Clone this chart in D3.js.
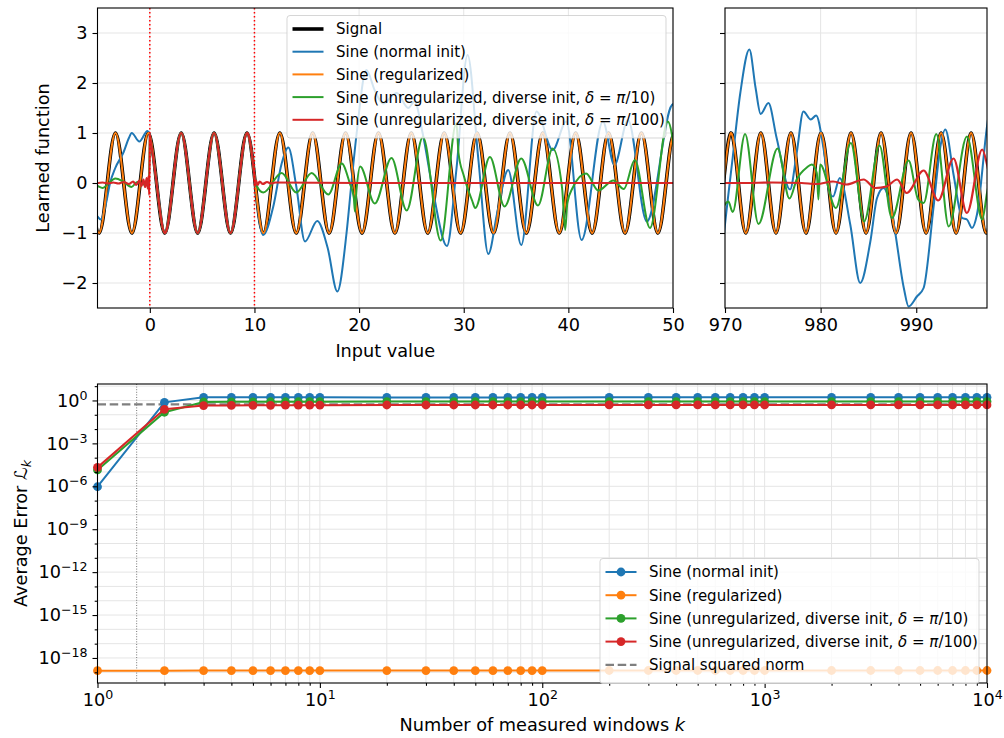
<!DOCTYPE html>
<html>
<head>
<meta charset="utf-8">
<script src="https://d3js.org/d3.v7.min.js"></script>
<style>
body { margin: 0; background: #fff; }
svg { font-family: "DejaVu Sans", sans-serif; }
</style>
</head>
<body>
<script>
// ---- data ----
const seriesNames = ['Sine (normal init)', 'Sine (regularized)',
  'Sine (unregularized, diverse init, δ = π/10)', 'Sine (unregularized, diverse init, δ = π/100)'];
const seriesColors = ['#1f77b4', '#ff7f0e', '#2ca02c', '#d62728'];
const signalName = 'Signal';
const normName = 'Signal squared norm';

// signal: extrema and zero crossings, left window
const signalLeft = [[-5.638,0],[-4.852,-1],[-4.067,0],[-3.282,1],[-2.496,0],[-1.711,-1],[-0.925,0],[-0.14,1],
  [0.645,0],[1.431,-1],[2.216,0],[3.002,1],[3.787,0],[4.572,-1],[5.358,0],[6.143,1],[6.929,0],[7.714,-1],
  [8.499,0],[9.285,1],[10.070,0],[10.856,-1],[11.641,0],[12.426,1],[13.212,0],[13.997,-1],[14.783,0],
  [15.568,1],[16.353,0],[17.139,-1],[17.924,0],[18.710,1],[19.495,0],[20.280,-1],[21.066,0],[21.851,1],
  [22.637,0],[23.422,-1],[24.207,0],[24.993,1],[25.778,0],[26.564,-1],[27.349,0],[28.134,1],[28.920,0],
  [29.705,-1],[30.491,0],[31.276,1],[32.061,0],[32.847,-1],[33.632,0],[34.418,1],[35.203,0],[35.988,-1],
  [36.774,0],[37.559,1],[38.345,0],[39.130,-1],[39.915,0],[40.701,1],[41.486,0],[42.272,-1],[43.057,0],
  [43.842,1],[44.628,0],[45.413,-1],[46.199,0],[46.984,1],[47.769,0],[48.555,-1],[49.340,0],[50.126,1],[50.911,0]];
// signal, right window
const signalRight = [[969.04,-1],[969.83,0],[970.61,1],[971.40,0],[972.18,-1],[972.97,0],[973.75,1],[974.54,0],
  [975.33,-1],[976.11,0],[976.90,1],[977.68,0],[978.47,-1],[979.25,0],[980.04,1],[980.82,0],[981.61,-1],
  [982.40,0],[983.18,1],[983.97,0],[984.75,-1],[985.54,0],[986.32,1],[987.11,0],[987.89,-1],[988.68,0],
  [989.46,1],[990.25,0],[991.03,-1],[991.82,0],[992.60,1],[993.39,0],[994.17,-1],[994.96,0],[995.74,1],
  [996.53,0],[997.32,-1],[998.10,0]];
// fit of the training window [0, 10] ends
const trainEnds = [[0, 0.96], [10, 0.14]];

const normalPre = [[-5.3,-0.6],[-5,-0.67],[-4.7,-0.73],[-4.2,-0.42],[-3.8,0.0],[-3.3,0.3],[-2.5,0.62],[-2.0,0.9],
  [-1.73,1.0],[-1.0,0.83],[-0.23,1.04],[0,0.96]];
const normalPost = [[10,0.14],[10.83,-1.04],[11.8,-0.47],[12.6,0.39],[13.24,0.71],[14.0,-0.07],[14.83,-1.17],
  [16.0,-0.76],[17.0,-1.3],[17.92,-2.17],[18.8,-1.0],[19.27,0.0],[19.77,1.0],[20.7,2.26],[21.5,1.85],[22.3,1.59],
  [23.6,1.8],[24.7,1.5],[25.3,1.63],[26.07,1.0],[27.1,-0.2],[28.4,-1.26],[29.3,0.27],[30.37,2.56],[31.4,0.47],
  [32.35,-1.42],[33.2,-0.6],[34.25,0.26],[35.5,-1.24],[36.96,1.43],[38.5,0.66],[39.8,1.23],[41.26,-1.14],
  [43.3,1.23],[44.4,0.36],[45.7,1.26],[47.5,-0.77],[49.9,1.56],[50.3,1.6]];
const diverse10Pre = [[-5.3,-0.03],[-5,-0.06],[-4.5,-0.1],[-4.0,-0.02],[-3.3,0.09],[-2.55,0.03],[-1.75,-0.08],
  [-1.2,0.02],[-0.6,-0.03],[-0.1,0.02],[0,0.96]];
const diverse10Post = [[10,0.14],[10.2,-0.05],[10.85,-0.19],[12.6,0.2],[14.0,-0.19],[15.47,0.2],[17.06,-0.23],
  [18.34,0.39],[19.1,0.0],[19.5,-0.3],[19.6,-0.57],[19.75,-0.15],[20.1,0.33],[21.5,-0.41],[23.1,0.5],
  [24.55,-0.55],[26.1,0.92],[27.8,-1.15],[29.3,1.2],[29.5,0.6],[30.0,0.15],[30.8,-0.35],[31.1,-0.5],
  [32.5,0.52],[33.9,-0.47],[35.5,0.49],[37.1,-0.45],[38.5,0.69],[39.4,-0.1],[39.7,-0.94],[39.9,-0.4],
  [40.4,-0.1],[41.7,0.19],[42.85,-0.15],[44.3,0.05],[45.3,-0.12],[46.35,0.46],[47.8,-0.9],[49.5,1.23],[50.3,0.4]];
const diverse100Pre = [[-5.3,0],[-5,0],[-4.5,0.01],[-4,-0.01],[-3.5,0.01],[-3,-0.01],[-2.5,0.02],[-2,-0.02],
  [-1.6,0.03],[-1.3,-0.04],[-1.0,0.05],[-0.8,-0.06],[-0.6,0.07],[-0.45,-0.08],[-0.3,0.1],[-0.2,-0.11],
  [-0.12,0.14],[-0.06,-0.24],[0,0.96]];
const diverse100Post = [[10,0.14],[10.05,-0.06],[10.15,0.05],[10.3,-0.04],[10.5,0.03],[10.8,-0.02],[11.2,0.02],
  [11.6,-0.01],[12,0.01],[20,0],[30,0],[40,0],[50.3,0]];

const normalRight = [[969.8,-1.2],[970,-0.83],[970.8,0.5],[971.6,1.8],[972.55,2.67],[973.2,1.9],[973.73,1.38],
  [974.54,1.6],[975.4,0.9],[976.8,-0.13],[977.5,0.6],[978.2,1.43],[978.97,1.27],[979.53,1.35],[980.3,0.7],
  [981.0,-0.23],[981.3,-0.27],[982.0,0.1],[983.1,-0.83],[984.14,-2.0],[985.2,-1.17],[985.9,-0.3],[986.6,-0.1],
  [987.6,-0.77],[988.7,-2.1],[989.2,-2.47],[990.07,-2.27],[990.77,-2.1],[991.8,-0.5],[992.5,0.7],[993.04,1.07],
  [993.9,0.17],[994.8,-0.7],[995.3,-0.73],[995.83,-0.9],[996.35,-0.63],[997.4,1.13],[997.6,1.4]];
const diverse10Right = [[969.8,-0.5],[970,-0.43],[970.35,-0.37],[970.8,-0.58],[972.1,0.98],[973.5,-0.82],
  [975.5,0.69],[976.74,-0.31],[977.5,0.07],[978.55,0.31],[979.07,0.37],[979.6,0.2],[979.77,-0.33],[979.95,0.37],
  [981.6,-0.5],[983.16,0.8],[984.55,-0.77],[986.16,0.75],[987.45,-0.7],[989.2,0.45],[990.2,-0.33],[990.77,-0.4],
  [992.1,0.98],[993.4,-0.87],[995.3,0.93],[996.9,-0.73],[997.4,-0.2],[997.6,0.0]];
const diverse100Right = [[969.8,0],[972,0.0],[975,0.01],[978,0.0],[979.6,-0.02],[981.3,0.03],[982.7,-0.03],
  [984.5,0.07],[985.7,-0.1],[986.9,-0.07],[988.0,0.07],[989.0,-0.2],[990.77,0.25],[992.3,-0.35],[993.9,0.49],
  [995.3,-0.6],[996.9,0.67],[997.4,0.37],[997.6,0.2]];

// bottom panel: average error per number of windows
const kValues = [1,2,3,4,5,6,7,8,9,10,20,30,40,50,60,70,80,90,100,200,300,400,500,600,700,800,900,1000,
  2000,3000,4000,5000,6000,7000,8000,9000,10000];
const errNormal = [9.3e-7,0.74,1.66,1.66,1.66,1.66,1.66,1.66,1.66,1.66,1.64,1.64,1.64,1.64,1.64,1.64,1.64,1.64,
  1.64,1.65,1.65,1.65,1.65,1.65,1.65,1.65,1.65,1.65,1.66,1.66,1.66,1.66,1.66,1.66,1.66,1.66,1.66];
const errRegularized = [1.3e-19,1.3e-19,1.32e-19,1.32e-19,1.32e-19,1.31e-19,1.31e-19,1.31e-19,1.31e-19,1.31e-19,
  1.32e-19,1.32e-19,1.32e-19,1.32e-19,1.32e-19,1.32e-19,1.32e-19,1.32e-19,1.32e-19,1.33e-19,1.33e-19,1.33e-19,
  1.33e-19,1.33e-19,1.33e-19,1.33e-19,1.33e-19,1.33e-19,1.33e-19,1.33e-19,1.33e-19,1.33e-19,1.33e-19,1.33e-19,
  1.33e-19,1.33e-19,1.33e-19];
const errDiverse10 = [1.4e-5,0.15,0.78,0.8,0.8,0.81,0.81,0.81,0.82,0.82,0.83,0.83,0.83,0.83,0.83,0.83,0.83,0.83,
  0.83,0.84,0.84,0.84,0.84,0.84,0.84,0.84,0.84,0.84,0.84,0.84,0.84,0.84,0.84,0.84,0.84,0.84,0.84];
const errDiverse100 = [2.1e-5,0.24,0.44,0.45,0.46,0.46,0.47,0.47,0.47,0.47,0.48,0.48,0.48,0.48,0.48,0.48,0.48,
  0.48,0.48,0.49,0.49,0.49,0.49,0.49,0.49,0.49,0.49,0.49,0.49,0.49,0.49,0.49,0.49,0.49,0.49,0.49,0.49];
const signalNorm = 0.54;
const windowMark = 1.5;

const topXTicksL = [0, 10, 20, 30, 40, 50];
const topXTicksR = [970, 980, 990];
const topYTicks = [-2, -1, 0, 1, 2, 3];
const botXTicks = [1, 10, 100, 1000, 10000];
const botYTicks = [1, 1e-3, 1e-6, 1e-9, 1e-12, 1e-15, 1e-18];
const trainBounds = [0, 10];

// ---- layout ----
const W = 1004, H = 738;
const FS = 17.7, LFS = 15;
const gridColor = '#e5e5e5';
const boxL = {x0: 97.5, x1: 673, y0: 8, y1: 308};
const boxR = {x0: 725, x1: 987, y0: 8, y1: 308};
const boxB = {x0: 97.5, x1: 987, y0: 384, y1: 683};

const svg = d3.select('body').append('svg').attr('width', W).attr('height', H);
const defs = svg.append('defs');
[['clipL', boxL], ['clipR', boxR]].forEach(([id, b]) => {
  defs.append('clipPath').attr('id', id).append('rect')
    .attr('x', b.x0).attr('y', b.y0).attr('width', b.x1 - b.x0).attr('height', b.y1 - b.y0);
});

const xL = d3.scaleLinear().domain([-5, 50]).range([boxL.x0, boxL.x1]);
const xR = d3.scaleLinear().domain([970, 997.4]).range([boxR.x0, boxR.x1]);
const yT = d3.scaleLinear().domain([-2.5, 3.5]).range([boxL.y1, boxL.y0]);
const xB = d3.scaleLog().domain([1, 1e4]).range([boxB.x0, boxB.x1]);
const yB = d3.scaleLog().domain([Math.pow(10, -19.75), Math.pow(10, 1.15)]).range([boxB.y1, boxB.y0]);

function lineGen(x, y, curve) {
  return d3.line().x(d => x(d[0])).y(d => y(d[1])).curve(curve);
}

function frame(b) {
  svg.append('rect').attr('x', b.x0).attr('y', b.y0).attr('width', b.x1 - b.x0).attr('height', b.y1 - b.y0)
    .attr('fill', 'none').attr('stroke', '#000').attr('stroke-width', 1.1);
}

function styleAxis(g) {
  g.attr('font-size', FS).attr('font-family', '"DejaVu Sans", sans-serif');
  g.select('.domain').remove();
  g.selectAll('.tick line').attr('stroke', '#000').attr('stroke-width', 1.1);
  g.selectAll('.tick text').attr('fill', '#000');
}

function powLabels(g) {
  g.selectAll('.tick text').each(function(d) {
    const t = d3.select(this);
    const e = Math.round(Math.log10(d));
    t.text(null);
    t.append('tspan').text('10');
    t.append('tspan').attr('dy', -7).attr('font-size', 12.6).text(String(e).replace('-', '\u2212'));
  });
}

// ---- top panels ----
function topPanel(box, x, xticks, clipId, curves, showLabels) {
  const g = svg.append('g');
  g.selectAll('.vg').data(xticks).join('line')
    .attr('x1', d => x(d)).attr('x2', d => x(d)).attr('y1', box.y0).attr('y2', box.y1)
    .attr('stroke', gridColor).attr('stroke-width', 1);
  g.selectAll('.hg').data(topYTicks).join('line')
    .attr('x1', box.x0).attr('x2', box.x1).attr('y1', d => yT(d)).attr('y2', d => yT(d))
    .attr('stroke', gridColor).attr('stroke-width', 1);

  const lines = svg.append('g').attr('clip-path', 'url(#' + clipId + ')');
  curves.forEach(c => {
    lines.append('path').datum(c.data)
      .attr('d', lineGen(x, yT, c.curve))
      .attr('fill', 'none').attr('stroke', c.color).attr('stroke-width', c.width)
      .attr('stroke-linejoin', 'round').attr('stroke-linecap', 'round');
  });

  frame(box);
  const ax = svg.append('g').attr('transform', 'translate(0,' + box.y1 + ')')
    .call(d3.axisBottom(x).tickValues(xticks).tickSize(5).tickPadding(5).tickFormat(d3.format('d')));
  styleAxis(ax);
  const ay = svg.append('g').attr('transform', 'translate(' + box.x0 + ',0)')
    .call(d3.axisLeft(yT).tickValues(topYTicks).tickSize(5).tickPadding(5)
      .tickFormat(showLabels ? (d => String(d).replace('-', '\u2212')) : () => ''));
  styleAxis(ay);
  return lines;
}

const trainFit = [trainEnds[0]].concat(signalLeft.filter(d => d[0] > trainBounds[0] && d[0] < trainBounds[1]), [trainEnds[1]]);
const nat = d3.curveNatural, mono = d3.curveMonotoneX;

const linesL = topPanel(boxL, xL, topXTicksL, 'clipL', [
  {data: signalLeft, curve: nat, color: '#000', width: 3.6},
  {data: normalPre, curve: mono, color: seriesColors[0], width: 2},
  {data: trainFit, curve: nat, color: seriesColors[0], width: 2},
  {data: normalPost, curve: mono, color: seriesColors[0], width: 2},
  {data: signalLeft, curve: nat, color: seriesColors[1], width: 2},
  {data: diverse10Pre, curve: mono, color: seriesColors[2], width: 2},
  {data: trainFit, curve: nat, color: seriesColors[2], width: 2},
  {data: diverse10Post, curve: mono, color: seriesColors[2], width: 2},
  {data: diverse100Pre, curve: mono, color: seriesColors[3], width: 2.2},
  {data: trainFit, curve: nat, color: seriesColors[3], width: 2.2},
  {data: diverse100Post, curve: mono, color: seriesColors[3], width: 2.2}
], true);

// training window bounds
linesL.selectAll('.tb').data(trainBounds).join('line')
  .attr('x1', d => xL(d)).attr('x2', d => xL(d)).attr('y1', boxL.y0).attr('y2', boxL.y1)
  .attr('stroke', '#ff0000').attr('stroke-width', 1.5).attr('stroke-dasharray', '1.5,2.5');

topPanel(boxR, xR, topXTicksR, 'clipR', [
  {data: signalRight, curve: nat, color: '#000', width: 3.6},
  {data: normalRight, curve: mono, color: seriesColors[0], width: 2},
  {data: signalRight, curve: nat, color: seriesColors[1], width: 2},
  {data: diverse10Right, curve: mono, color: seriesColors[2], width: 2},
  {data: diverse100Right, curve: mono, color: seriesColors[3], width: 2.2}
], false);

svg.append('text').attr('transform', 'translate(48.5,' + (boxL.y0 + boxL.y1) / 2 + ') rotate(-90)')
  .attr('text-anchor', 'middle').attr('font-size', FS).text('Learned function');
svg.append('text').attr('x', (boxL.x0 + boxL.x1) / 2).attr('y', 357)
  .attr('text-anchor', 'middle').attr('font-size', FS).text('Input value');

// ---- bottom panel ----
const minorX = [];
[1, 10, 100, 1000].forEach(p => [2,3,4,5,6,7,8,9].forEach(m => minorX.push(p * m)));
const decadesY = d3.range(-19, 2).map(e => Math.pow(10, e));
const minorY = decadesY.filter(v => Math.round(Math.log10(v)) % 3 !== 0);

const gb = svg.append('g');
gb.selectAll('.vg').data(botXTicks.concat(minorX)).join('line')
  .attr('x1', d => xB(d)).attr('x2', d => xB(d)).attr('y1', boxB.y0).attr('y2', boxB.y1)
  .attr('stroke', gridColor).attr('stroke-width', 1);
gb.selectAll('.hg').data(decadesY).join('line')
  .attr('x1', boxB.x0).attr('x2', boxB.x1).attr('y1', d => yB(d)).attr('y2', d => yB(d))
  .attr('stroke', gridColor).attr('stroke-width', 1);

gb.append('line').attr('x1', xB(windowMark)).attr('x2', xB(windowMark)).attr('y1', boxB.y0).attr('y2', boxB.y1)
  .attr('stroke', '#666').attr('stroke-width', 0.9).attr('stroke-dasharray', '1,1.6');
gb.append('line').attr('x1', boxB.x0).attr('x2', boxB.x1).attr('y1', yB(signalNorm)).attr('y2', yB(signalNorm))
  .attr('stroke', '#7f7f7f').attr('stroke-width', 2.2).attr('stroke-dasharray', '8.5,3.7');

const errSeries = [errNormal, errRegularized, errDiverse10, errDiverse100];
errSeries.forEach((vals, i) => {
  const pts = kValues.map((k, j) => [k, vals[j]]);
  gb.append('path').datum(pts).attr('d', lineGen(xB, yB, d3.curveLinear))
    .attr('fill', 'none').attr('stroke', seriesColors[i]).attr('stroke-width', 2);
  gb.selectAll('.m' + i).data(pts).join('circle')
    .attr('cx', d => xB(d[0])).attr('cy', d => yB(d[1])).attr('r', 4.4).attr('fill', seriesColors[i]);
});

frame(boxB);
const axB = svg.append('g').attr('transform', 'translate(0,' + boxB.y1 + ')')
  .call(d3.axisBottom(xB).tickValues(botXTicks).tickSize(5).tickPadding(5));
styleAxis(axB); powLabels(axB);
const axBm = svg.append('g').attr('transform', 'translate(0,' + boxB.y1 + ')')
  .call(d3.axisBottom(xB).tickValues(minorX).tickSize(2.8).tickFormat(() => ''));
styleAxis(axBm);
const ayB = svg.append('g').attr('transform', 'translate(' + boxB.x0 + ',0)')
  .call(d3.axisLeft(yB).tickValues(botYTicks).tickSize(5).tickPadding(5));
styleAxis(ayB); powLabels(ayB);
const ayBm = svg.append('g').attr('transform', 'translate(' + boxB.x0 + ',0)')
  .call(d3.axisLeft(yB).tickValues(minorY).tickSize(2.8).tickFormat(() => ''));
styleAxis(ayBm);

const xl = svg.append('text').attr('x', (boxB.x0 + boxB.x1) / 2).attr('y', 731)
  .attr('text-anchor', 'middle').attr('font-size', FS);
xl.append('tspan').text('Number of measured windows ');
xl.append('tspan').attr('font-style', 'italic').text('k');
const yl = svg.append('text').attr('transform', 'translate(27,' + (boxB.y0 + boxB.y1) / 2 + ') rotate(-90)')
  .attr('text-anchor', 'middle').attr('font-size', FS);
yl.append('tspan').text('Average Error ');
yl.append('tspan').text('\u2112');
yl.append('tspan').attr('dy', 4).attr('font-size', 12.6).attr('font-style', 'italic').text('k');

// ---- legends ----
function labelText(t, s) {
  s.split(/([δπ])/).forEach(part => {
    if (!part) return;
    const sp = t.append('tspan').text(part);
    if (part === 'δ' || part === 'π') sp.attr('font-style', 'italic');
  });
}

function legend(x, y, w, items, rowH) {
  const h = items.length * rowH + 9;
  const g = svg.append('g');
  g.append('rect').attr('x', x).attr('y', y).attr('width', w).attr('height', h).attr('rx', 3)
    .attr('fill', '#fff').attr('fill-opacity', 0.8).attr('stroke', '#cccccc').attr('stroke-opacity', 0.8);
  items.forEach((it, i) => {
    const cy = y + 13.5 + i * rowH;
    g.append('line').attr('x1', x + 5.5).attr('x2', x + 36.5).attr('y1', cy).attr('y2', cy)
      .attr('stroke', it.color).attr('stroke-width', it.width)
      .attr('stroke-dasharray', it.dash || null);
    if (it.marker) g.append('circle').attr('cx', x + 21).attr('cy', cy).attr('r', 4.4).attr('fill', it.color);
    const t = g.append('text').attr('x', x + 49).attr('y', cy).attr('dy', '0.36em').attr('font-size', LFS);
    labelText(t, it.label);
  });
}

legend(287, 15.5, 379, [{label: signalName, color: '#000', width: 3.6}].concat(
  seriesNames.map((s, i) => ({label: s, color: seriesColors[i], width: 2}))), 22.7);
legend(600, 558.5, 379, seriesNames.map((s, i) => ({label: s, color: seriesColors[i], width: 2, marker: true}))
  .concat([{label: normName, color: '#7f7f7f', width: 2.2, dash: '8.5,3.7'}]), 23.2);
</script>
</body>
</html>
